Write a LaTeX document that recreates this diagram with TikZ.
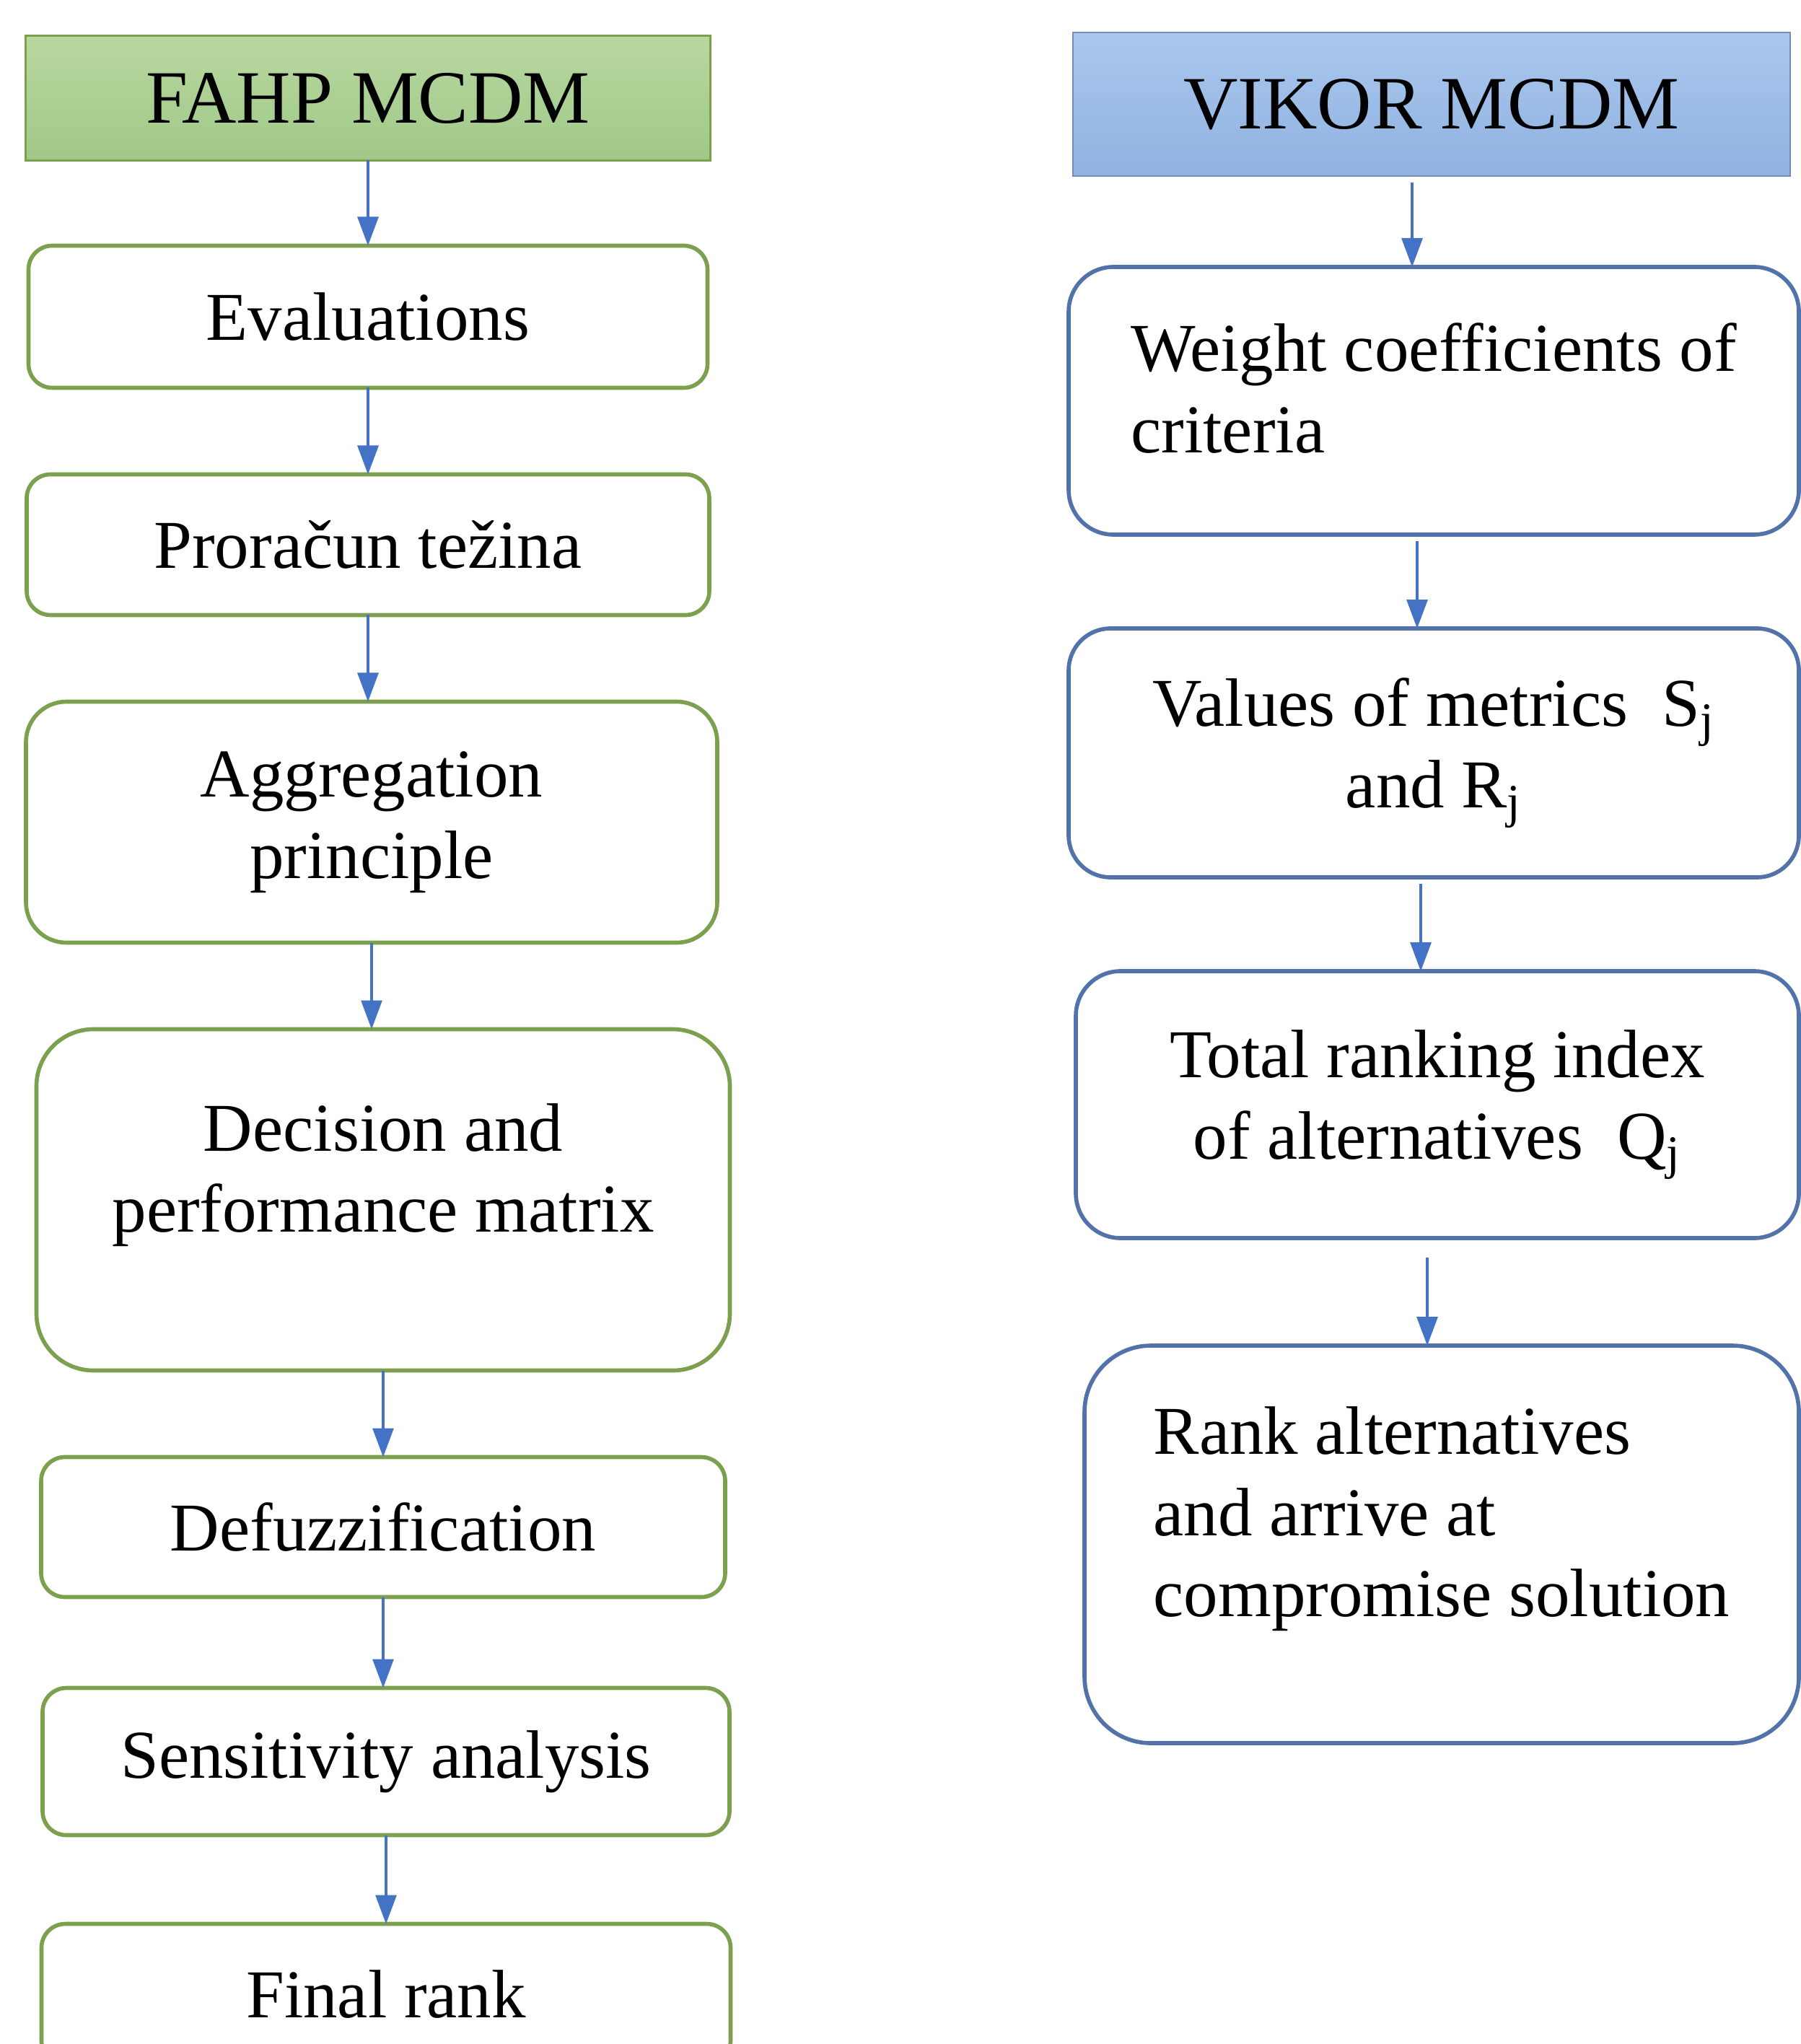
\documentclass[tikz,border=0pt]{standalone}
\usepackage{fontspec}
\setmainfont{Liberation Serif}
\usetikzlibrary{positioning, arrows.meta}

\definecolor{fahpline}{RGB}{125,160,78}
\definecolor{fahptop}{RGB}{184,216,160}
\definecolor{fahpbot}{RGB}{160,200,136}
\definecolor{vikorline}{RGB}{82,115,170}
\definecolor{vikortop}{RGB}{170,200,238}
\definecolor{vikorbot}{RGB}{143,178,224}
\definecolor{arrowblue}{RGB}{68,114,196}

\begin{document}
\begin{tikzpicture}[
        node distance = 1.2cm,
        -{Triangle[length=0.4cm, width=0.29cm]},
        every node/.style = {font = \fontsize{27}{32}\selectfont, inner sep = 0pt, outer sep = 0pt},
        fahphead/.style = {rectangle, draw = fahpline, line width = 0.8pt,
            top color = fahptop, bottom color = fahpbot,
            font = \fontsize{29.7}{34}\selectfont},
        vikorhead/.style = {rectangle, draw = vikorline!80, line width = 0.8pt,
            top color = vikortop, bottom color = vikorbot,
            font = \fontsize{29.7}{34}\selectfont},
        fahpbox/.style = {rectangle, draw = fahpline, line width = 1.6pt,
            fill = white, align = center, rounded corners = #1},
        fahpbox/.default = 0.33cm,
        vikorbox/.style = {rectangle, draw = vikorline, line width = 1.6pt,
            fill = white, rounded corners = #1},
        vikorbox/.default = 0.62cm]

      \useasboundingbox (0,0) rectangle (24.95,-28.33);

      %FAHP column
      \node[fahphead, minimum width = 9.49cm, minimum height = 1.73cm] (fahp) at (5.10,-1.36) {FAHP MCDM};
      \node[fahpbox, minimum width = 9.41cm, minimum height = 1.97cm] (eval) [below = 1.18cm of fahp] {Evaluations};
      \node[fahpbox, minimum width = 9.46cm, minimum height = 1.95cm] (tezina) [below = of eval] {Proračun težina};
      \node[fahpbox = 0.56cm, minimum width = 9.58cm, minimum height = 3.34cm] (aggr) [below = of tezina, xshift = 0.05cm] {Aggregation\\principle};
      \node[fahpbox = 0.79cm, minimum width = 9.61cm, minimum height = 4.73cm, text depth = 0.89cm] (matrix) [below = of aggr, xshift = 0.16cm] {Decision and\\performance matrix};
      \node[fahpbox, minimum width = 9.48cm, minimum height = 1.94cm] (defuzz) [below = of matrix] {Defuzzification};
      \node[fahpbox, minimum width = 9.52cm, minimum height = 2.04cm] (sens) [below = 1.26cm of defuzz, xshift = 0.04cm] {Sensitivity analysis};
      \node[fahpbox, minimum width = 9.55cm, minimum height = 1.95cm] (final) [below = 1.23cm of sens] {Final rank};

      %VIKOR column
      \node[vikorhead, minimum width = 9.94cm, minimum height = 1.99cm] (vikor) at (19.84,-1.445) {VIKOR MCDM};
      \node[vikorbox, minimum width = 10.12cm, minimum height = 3.71cm, align = left, text depth = 0.36cm] (weights) [below = 1.26cm of vikor, xshift = 0.03cm] {Weight coefficients of\\criteria};
      \node[vikorbox = 0.58cm, minimum width = 10.12cm, minimum height = 3.45cm, align = center] (metrics) [below = 1.30cm of weights] {Values of metrics~~S\textsubscript{j}\\and R\textsubscript{j}};
      \node[vikorbox, minimum width = 10.02cm, minimum height = 3.70cm, align = center] (index) [below = 1.30cm of metrics, xshift = 0.05cm] {Total ranking index\\of alternatives~~Q\textsubscript{j}};
      \node[vikorbox = 0.92cm, minimum width = 9.90cm, minimum height = 5.51cm, align = left, text depth = 0.9cm] (rank) [below = 1.49cm of index, xshift = 0.06cm] {Rank alternatives\\and arrive at\\compromise solution};

      \begin{scope}[draw = arrowblue, line width = 0.9pt]
      %arrows down the FAHP column
        \path
        (fahp.south) edge (fahp.south |- eval.north)
        (eval.south) edge (eval.south |- tezina.north)
        (tezina.south) edge (tezina.south |- aggr.north)
        (aggr.south) edge (aggr.south |- matrix.north)
        (matrix.south) edge (matrix.south |- defuzz.north)
        (defuzz.south) edge (defuzz.south |- sens.north)
        (sens.south) edge (sens.south |- final.north)
        ;
      %arrows down the VIKOR column
        \path[shorten <= 0.09cm]
        ([xshift = -0.27cm]vikor.south) edge ([xshift = -0.27cm]vikor.south |- weights.north)
        ([xshift = -0.23cm]weights.south) edge ([xshift = -0.23cm]weights.south |- metrics.north)
        ([xshift = -0.18cm]metrics.south) edge ([xshift = -0.18cm]metrics.south |- index.north)
        ;
        \path[shorten <= 0.27cm]
        ([xshift = -0.14cm]index.south) edge ([xshift = -0.14cm]index.south |- rank.north)
        ;
      \end{scope}
    \end{tikzpicture}
\end{document}
